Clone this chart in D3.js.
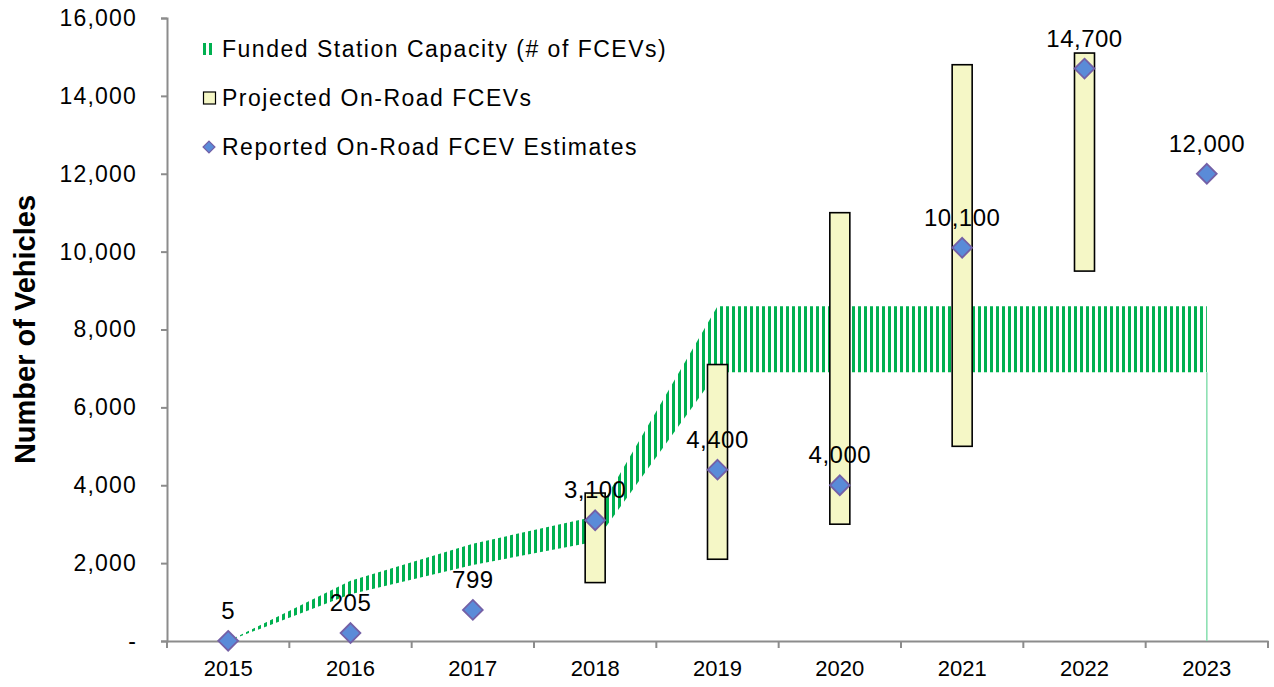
<!DOCTYPE html>
<html>
<head>
<meta charset="utf-8">
<script src="https://cdn.jsdelivr.net/npm/d3@7"></script>
<style>
  body { margin: 0; background: #fff; }
  text { font-family: "Liberation Sans", Arial, sans-serif; fill: #000; }
</style>
</head>
<body>
<div id="chart"></div>
<script>
// data
var years = ["2015", "2016", "2017", "2018", "2019", "2020", "2021", "2022", "2023"];
var capLow = [0, 1200, 1950, 2550, 6900, 6900, 6900, 6900, 6900];
var capHigh = [0, 1550, 2500, 3200, 8600, 8600, 8600, 8600, 8600];
var projLow = [5, 205, 799, 1500, 2100, 3000, 5000, 9500, 12000];
var projHigh = [5, 205, 799, 3800, 7100, 11000, 14800, 15100, 12000];
var reported = [5, 205, 799, 3100, 4400, 4000, 10100, 14700, 12000];
var yTicks = [0, 2000, 4000, 6000, 8000, 10000, 12000, 14000, 16000];
var legendLabels = ["Funded Station Capacity (# of FCEVs)", "Projected On-Road FCEVs", "Reported On-Road FCEV Estimates"];

var width = 1274, height = 687;
var mLeft = 167, mRight = 1268, mTop = 18, mBottom = 641;
var fmt = d3.format(",");

var svg = d3.select("#chart").append("svg")
  .attr("width", width)
  .attr("height", height);

var defs = svg.append("defs");
var pat = defs.append("pattern")
  .attr("id", "hatch")
  .attr("patternUnits", "userSpaceOnUse")
  .attr("width", 6)
  .attr("height", 6);
pat.append("rect").attr("x", 0).attr("y", 0).attr("width", 3).attr("height", 6).attr("fill", "#00b050");

var x = d3.scaleBand().domain(years).range([mLeft, mRight]);
var y = d3.scaleLinear().domain([0, 16000]).range([mBottom, mTop]);
var cx = function(i) { return x(years[i]) + x.bandwidth() / 2; };

// axes
var yAxis = d3.axisLeft(y).tickValues(yTicks).tickSize(6).tickPadding(24)
  .tickFormat(function(d) { return d === 0 ? "-" : fmt(d); });
var gy = svg.append("g").attr("transform", "translate(" + mLeft + ",0)").call(yAxis);
gy.selectAll("text").style("font-size", "23px").style("letter-spacing", "1.2px");

var xAxis = d3.axisBottom(x).tickSize(0).tickPadding(19);
var gx = svg.append("g").attr("transform", "translate(0," + mBottom + ")").call(xAxis);
gx.selectAll("text").style("font-size", "22px").attr("dy", "0.71em");
// tick marks at category boundaries
gx.selectAll(".bound").data(years.concat(["end"])).enter().append("line")
  .attr("class", "bound")
  .attr("x1", function(d, i) { return mLeft + i * x.step(); })
  .attr("x2", function(d, i) { return mLeft + i * x.step(); })
  .attr("y1", 0).attr("y2", 7);

svg.selectAll(".domain, .tick line, .bound")
  .attr("stroke", "#8c8c8c").attr("stroke-width", 2);
svg.selectAll(".tick text").attr("fill", "#000");

// funded station capacity band
var idx = d3.range(years.length);
var band = d3.area()
  .x(function(i) { return cx(i); })
  .y0(function(i) { return y(capLow[i]); })
  .y1(function(i) { return y(capHigh[i]); });
svg.append("path").datum(idx).attr("d", band).attr("fill", "url(#hatch)");

var last = years.length - 1;
svg.append("line")
  .attr("x1", cx(last)).attr("x2", cx(last))
  .attr("y1", y(capLow[last])).attr("y2", y(0))
  .attr("stroke", "#86dfae").attr("stroke-width", 1.5);

// projected floating bars
var barW = 20;
svg.selectAll(".proj").data(idx).enter().append("rect")
  .attr("class", "proj")
  .attr("x", function(i) { return cx(i) - barW / 2; })
  .attr("y", function(i) { return y(projHigh[i]); })
  .attr("width", barW)
  .attr("height", function(i) { return y(projLow[i]) - y(projHigh[i]); })
  .attr("fill", "#f5f7c6")
  .attr("stroke", "#000")
  .attr("stroke-width", 1.6);

// reported estimates
var dia = d3.symbol().type(d3.symbolDiamond2).size(250);
svg.selectAll(".rep").data(idx).enter().append("path")
  .attr("class", "rep")
  .attr("transform", function(i) { return "translate(" + cx(i) + "," + y(reported[i]) + ")"; })
  .attr("d", dia)
  .attr("fill", "#5a8bd8")
  .attr("stroke", "#7460a6")
  .attr("stroke-width", 1.8);

svg.selectAll(".lbl").data(idx).enter().append("text")
  .attr("class", "lbl")
  .attr("x", function(i) { return cx(i); })
  .attr("y", function(i) { return y(reported[i]) - 22; })
  .attr("text-anchor", "middle")
  .style("font-size", "24px")
  .style("letter-spacing", "0.5px")
  .text(function(i) { return fmt(reported[i]); });

// y title
svg.append("text")
  .attr("transform", "translate(35," + (mBottom + mTop) / 2 + ") rotate(-90)")
  .attr("text-anchor", "middle")
  .style("font-size", "29px")
  .style("font-weight", "bold")
  .text("Number of Vehicles");

// legend
var leg = svg.append("g").attr("transform", "translate(203,0)");
var rows = [49, 98, 147];
leg.append("rect").attr("x", 0).attr("y", rows[0] - 6).attr("width", 12).attr("height", 12).attr("fill", "url(#hatch)");
leg.append("rect").attr("x", 0.5).attr("y", rows[1] - 6).attr("width", 12).attr("height", 12)
  .attr("fill", "#f5f7c6").attr("stroke", "#000").attr("stroke-width", 1.2);
leg.append("path").attr("transform", "translate(6," + rows[2] + ")")
  .attr("d", d3.symbol().type(d3.symbolDiamond2).size(90))
  .attr("fill", "#5a8bd8").attr("stroke", "#7460a6").attr("stroke-width", 1.2);
leg.selectAll(".lt").data(legendLabels).enter().append("text")
  .attr("class", "lt")
  .attr("x", 19)
  .attr("y", function(d, i) { return rows[i]; })
  .attr("dy", "0.36em")
  .style("font-size", "23px")
  .style("letter-spacing", "1.5px")
  .text(function(d) { return d; });
</script>
</body>
</html>
